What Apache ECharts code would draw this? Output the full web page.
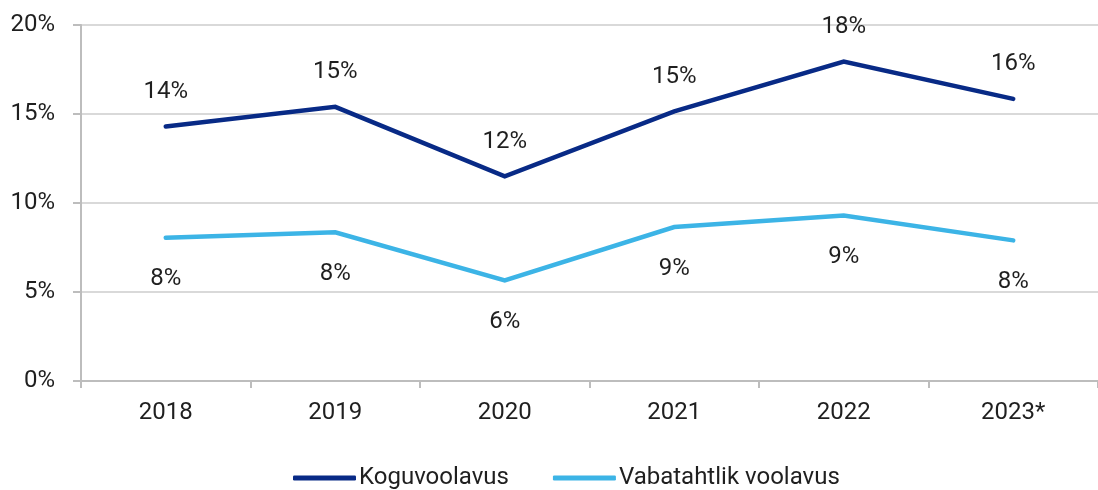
<!DOCTYPE html>
<html>
<head>
<meta charset="utf-8">
<script src="https://cdn.jsdelivr.net/npm/echarts@6/dist/echarts.min.js"></script>
<style>
html,body{margin:0;padding:0;background:#fff;}
#c{width:1098px;height:490px;}
</style>
</head>
<body>
<div id="c"></div>
<script>
const categories = ['2018', '2019', '2020', '2021', '2022', '2023*'];
const koguvoolavus = [14.3, 15.4, 11.5, 15.15, 17.95, 15.85];
const vabatahtlik = [8.05, 8.35, 5.65, 8.65, 9.3, 7.9];
const yTicks = [0, 5, 10, 15, 20];
const seriesNames = ['Koguvoolavus', 'Vabatahtlik voolavus'];

const FONT = "Roboto, sans-serif";
const FS = 24;
const TXT = '#1f1f1f';
const chart = echarts.init(document.getElementById('c'), null, {renderer: 'canvas'});
chart.setOption({
  animation: false,
  backgroundColor: '#fff',
  textStyle: {fontFamily: FONT},
  grid: {left: 81, right: -7, top: 25, bottom: 109, containLabel: false},
  legend: {
    left: 293, top: 466,
    padding: 0,
    itemWidth: 63, itemHeight: 5, itemGap: 44,
    icon: 'roundRect',
    textStyle: {fontFamily: FONT, fontSize: FS, color: TXT, padding: [0,0,6,-2]},
    data: seriesNames
  },
  xAxis: {
    type: 'category',
    data: categories,
    boundaryGap: true,
    axisLine: {lineStyle: {color: '#bdbdbd', width: 2}},
    axisTick: {show: true, length: 7, alignWithLabel: false, lineStyle: {color: '#bdbdbd', width: 2}},
    axisLabel: {fontFamily: FONT, fontSize: FS, color: TXT, margin: 20}
  },
  yAxis: {
    type: 'value',
    min: yTicks[0], max: yTicks[yTicks.length - 1], interval: 5,
    axisLine: {show: true, lineStyle: {color: '#bdbdbd', width: 2}},
    axisTick: {show: true, length: 8, lineStyle: {color: '#bdbdbd', width: 2}},
    splitLine: {lineStyle: {color: '#d9d9d9', width: 2}},
    axisLabel: {fontFamily: FONT, fontSize: FS, color: TXT, margin: 26, formatter: v => v + '%'}
  },
  series: [
    {
      name: seriesNames[0], type: 'line', data: koguvoolavus,
      symbol: 'circle', symbolSize: 1, showSymbol: true, color: '#082a86',
      itemStyle: {color: '#082a86'},
      lineStyle: {width: 4.5, color: '#082a86', cap: 'round', join: 'miter'},
      labelLayout: {hideOverlap: false},
      label: {show: true, position: 'top', distance: 22, fontFamily: FONT, fontSize: FS, color: TXT,
        formatter: p => Math.round(p.value) + '%'}
    },
    {
      name: seriesNames[1], type: 'line', data: vabatahtlik,
      symbol: 'circle', symbolSize: 1, showSymbol: true, color: '#3cb4e6',
      itemStyle: {color: '#3cb4e6'},
      lineStyle: {width: 4.5, color: '#3cb4e6', cap: 'round', join: 'miter'},
      labelLayout: {hideOverlap: false},
      label: {show: true, position: 'bottom', distance: 29, fontFamily: FONT, fontSize: FS, color: TXT,
        formatter: p => Math.round(p.value) + '%'}
    }
  ]
});
</script>
</body>
</html>
